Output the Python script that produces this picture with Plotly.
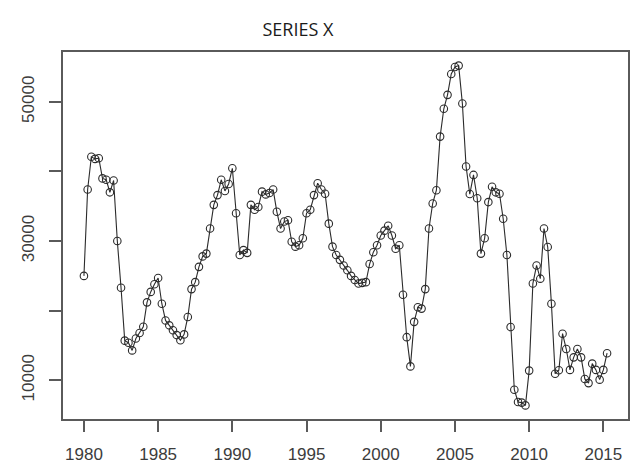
import plotly.graph_objects as go

# Quarterly series, first observation 1980 Q1
start_year = 1980
periods_per_year = 4
series_x = [
    25000, 37400, 42100, 41800, 41900, 39000, 38800, 37000, 38700, 30000,
    23300, 15700, 15400, 14300, 16000, 16800, 17700, 21200, 22700, 23800,
    24700, 21000, 18600, 17900, 17200, 16500, 15750, 16600, 19100, 23100,
    24100, 26300, 27800, 28200, 31800, 35200, 36600, 38800, 37200, 38200,
    40450, 34000, 28000, 28700, 28300, 35200, 34500, 34900, 37100, 36700,
    36900, 37400, 34200, 31800, 32800, 33000, 29900, 29200, 29400, 30400,
    34000, 34500, 36600, 38300, 37400, 36800, 32500, 29200, 28000, 27300,
    26500, 25800, 25000, 24400, 23900, 24000, 24100, 26700, 28400, 29400,
    30800, 31500, 32200, 30800, 28900, 29400, 22300, 16200, 12000, 18400,
    20500, 20300, 23100, 31800, 35400, 37300, 45000, 49000, 51000, 54000,
    55000, 55200, 49750, 40700, 36750, 39500, 36150, 28200, 30400, 35600,
    37800, 37000, 36800, 33200, 28000, 17650, 8650, 6900, 6800, 6400,
    11400, 23900, 26500, 24600, 31800, 29150, 21000, 10950, 11450, 16700,
    14500, 11500, 13300, 14500, 13300, 10200, 9600, 12400, 11500, 10100,
    11500, 13900,
]
x_ticks = [1980, 1985, 1990, 1995, 2000, 2005, 2010, 2015]
y_ticks = [10000, 20000, 30000, 40000, 50000]
y_tick_labels = ["10000", "", "30000", "", "50000"]

# time index in decimal years
t = [start_year + i / periods_per_year for i in range(len(series_x))]

# R-style axis limits: data range extended by 4% on each side
def padded(lo, hi, frac=0.04):
    d = (hi - lo) * frac
    return [lo - d, hi + d]

x_range = padded(min(t), max(t))
y_range = padded(min(series_x), max(series_x))

ink = "#2b2b2b"
fig = go.Figure(
    go.Scatter(
        x=t,
        y=series_x,
        mode="lines+markers",
        line=dict(color=ink, width=1.1),
        marker=dict(symbol="circle-open", size=7.5, color=ink, line=dict(width=1.1)),
        hoverinfo="x+y",
    )
)

axis_common = dict(
    showgrid=False,
    zeroline=False,
    showline=True,
    mirror=True,
    linecolor="#5a5a5a",
    linewidth=1.5,
    ticks="outside",
    tickcolor="#5a5a5a",
    tickwidth=1.5,
    tickfont=dict(family="Liberation Sans, Arial, sans-serif", size=17, color="#3c3c3c"),
)

fig.update_xaxes(
    **axis_common,
    range=x_range,
    tickvals=x_ticks,
    ticktext=[str(v) for v in x_ticks],
    ticklen=11,
    ticklabelstandoff=8,
)
fig.update_yaxes(
    **axis_common,
    range=y_range,
    tickvals=y_ticks,
    ticktext=y_tick_labels,
    ticklen=12,
    tickangle=-90,
    ticklabelstandoff=8,
)

fig.update_layout(
    width=630,
    height=471,
    margin=dict(l=63, r=0, t=52, b=52),
    paper_bgcolor="white",
    plot_bgcolor="white",
    showlegend=False,
    title=dict(
        text="SERIES X",
        x=0.473,
        xanchor="center",
        y=0.936,
        yanchor="middle",
        font=dict(family="Open Sans, Lato, sans-serif", size=18, color="#1a1a1a"),
    ),
)

fig.write_html("out.html")
